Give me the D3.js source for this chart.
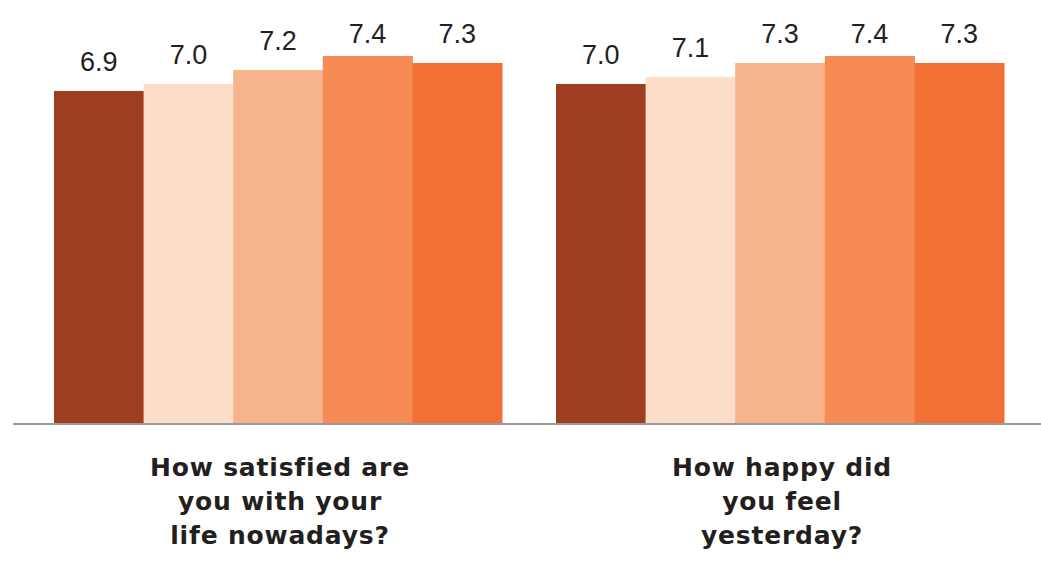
<!DOCTYPE html>
<html>
<head>
<meta charset="utf-8">
<script src="https://cdn.jsdelivr.net/npm/d3@7"></script>
<style>
  html, body { margin: 0; padding: 0; background: #ffffff; }
  svg { display: block; }
</style>
</head>
<body>
<svg id="chart" width="1041" height="562"></svg>
<script>
// Survey questions (one group of bars each)
const questions = [
  ["How satisfied are", "you with your", "life nowadays?"],
  ["How happy did", "you feel", "yesterday?"]
];
const questionKeys = ["satisfied", "happy"];

// Five respondent segments, one bar each per question
const segments = ["s1", "s2", "s3", "s4", "s5"];
const segmentColors = ["#9d3e21", "#fcdec8", "#f7b38c", "#f68b56", "#f27033"];

// Average scores per segment
const satisfiedValues = [6.9, 7.0, 7.2, 7.4, 7.3];
const happyValues = [7.0, 7.1, 7.3, 7.4, 7.3];
const valuesByQuestion = [satisfiedValues, happyValues];

const svg = d3.select("#chart");
const baseline = 423;

const x0 = d3.scaleBand()
  .domain(questionKeys)
  .range([54, 1004])
  .paddingInner(54 / 502)
  .paddingOuter(0);

const x1 = d3.scaleBand()
  .domain(segments)
  .range([0, x0.bandwidth()])
  .padding(0);

const y = d3.scaleLinear()
  .domain([2.15, 7.4])
  .range([baseline, 56]);

const color = d3.scaleOrdinal().domain(segments).range(segmentColors);

const groups = svg.selectAll("g.group")
  .data(questionKeys.map((k, i) => ({ key: k, values: valuesByQuestion[i], lines: questions[i] })))
  .join("g")
  .attr("class", "group")
  .attr("transform", d => `translate(${x0(d.key)},0)`);

groups.selectAll("rect")
  .data(d => d.values.map((v, j) => ({ seg: segments[j], value: v })))
  .join("rect")
  .attr("x", d => x1(d.seg))
  .attr("y", d => y(d.value))
  .attr("width", x1.bandwidth() + 0.5)
  .attr("height", d => baseline + 1 - y(d.value))
  .attr("fill", d => color(d.seg));

groups.selectAll("text.value")
  .data(d => d.values.map((v, j) => ({ seg: segments[j], value: v })))
  .join("text")
  .attr("class", "value")
  .attr("x", d => x1(d.seg) + x1.bandwidth() / 2)
  .attr("y", d => Math.max(y(d.value) - 20, 43))
  .attr("text-anchor", "middle")
  .attr("font-family", "'Liberation Sans', Arial, sans-serif")
  .attr("font-size", 27)
  .attr("fill", "#231f20")
  .text(d => d3.format(".1f")(d.value));

// Question labels beneath each group
groups.append("text")
  .attr("class", "question")
  .attr("text-anchor", "middle")
  .attr("font-family", "'DejaVu Sans', sans-serif")
  .attr("font-weight", 700)
  .attr("font-size", 25)
  .attr("letter-spacing", 0.8)
  .attr("fill", "#231f20")
  .selectAll("tspan")
  .data(d => d.lines)
  .join("tspan")
  .attr("x", x0.bandwidth() / 2 + 2)
  .attr("y", (d, i) => 476 + i * 34)
  .text(d => d);

// Baseline axis
svg.append("line")
  .attr("x1", 13)
  .attr("x2", 1041)
  .attr("y1", baseline + 1)
  .attr("y2", baseline + 1)
  .attr("stroke", "#9a9a9a")
  .attr("stroke-width", 2);
</script>
</body>
</html>
